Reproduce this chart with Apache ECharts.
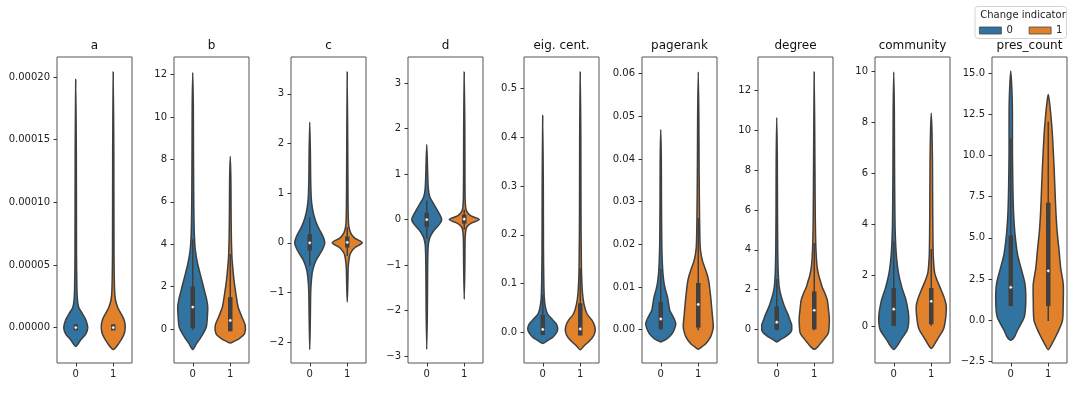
<!DOCTYPE html>
<html>
<head>
<meta charset="utf-8">
<script src="https://cdn.jsdelivr.net/npm/echarts@6/dist/echarts.min.js"></script>
<style>
  html, body { margin: 0; padding: 0; background: #fff; }
  #main { width: 1076px; height: 393px; }
</style>
</head>
<body>
<div id="main"></div>
<script>
// panels and hues
var panelTitles = ['a', 'b', 'c', 'd', 'eig. cent.', 'pagerank', 'degree', 'community', 'pres_count'];
var hueNames = ['0', '1'];

// y axis limits and ticks per panel
var yMin = [-0.0000283, -1.60, -2.42, -3.15, -0.063, -0.00783, -1.675, -1.44, -2.59];
var yMax = [0.000216, 12.83, 3.74, 3.57, 0.565, 0.0639, 13.67, 10.55, 15.97];
var yTicks = [
    [0, 0.00005, 0.0001, 0.00015, 0.0002],
    [0, 2, 4, 6, 8, 10, 12],
    [-2, -1, 0, 1, 2, 3],
    [-3, -2, -1, 0, 1, 2, 3],
    [0, 0.1, 0.2, 0.3, 0.4, 0.5],
    [0, 0.01, 0.02, 0.03, 0.04, 0.05, 0.06],
    [0, 2, 4, 6, 8, 10, 12],
    [0, 2, 4, 6, 8, 10],
    [-2.5, 0, 2.5, 5, 7.5, 10, 12.5, 15]
];
var tickDecimals = [5, 0, 0, 0, 1, 2, 0, 0, 1];

// violin outlines: [value, half width] from bottom to top, hue 0 then hue 1
var shape_a = [
    [[-1.5e-5, 0], [-1.0e-5, 0.13], [-0.5e-5, 0.27], [0, 0.32], [0.6e-5, 0.27], [1.1e-5, 0.18], [1.6e-5, 0.08], [2.2e-5, 0.045], [3.2e-5, 0.03], [6e-5, 0.02], [1.4e-4, 0.015], [1.98e-4, 0]],
    [[-1.76e-5, 0], [-1.3e-5, 0.14], [-0.6e-5, 0.28], [0, 0.32], [0.6e-5, 0.29], [1.1e-5, 0.21], [1.6e-5, 0.12], [2.2e-5, 0.06], [3e-5, 0.035], [6e-5, 0.02], [1.4e-4, 0.015], [2.04e-4, 0]]
];
var shape_b = [
    [[-0.97, 0], [-0.85, 0.05], [-0.69, 0.1], [-0.38, 0.22], [0.09, 0.36], [0.6, 0.39], [1.04, 0.4], [1.4, 0.37], [1.82, 0.31], [2.45, 0.22], [3.08, 0.13], [3.71, 0.07], [4.34, 0.045], [5.2, 0.032], [6.5, 0.025], [8.5, 0.019], [10.5, 0.015], [12.1, 0]],
    [[-0.66, 0], [-0.58, 0.1], [-0.45, 0.24], [-0.22, 0.38], [0.17, 0.4], [0.57, 0.31], [1.04, 0.21], [1.67, 0.15], [2.3, 0.1], [2.93, 0.065], [3.4, 0.045], [4.3, 0.03], [5.5, 0.022], [7, 0.017], [8.15, 0]]
];
var shape_c = [
    [[-2.15, 0], [-1.5, 0.016], [-1.0, 0.025], [-0.75, 0.045], [-0.55, 0.08], [-0.35, 0.17], [-0.15, 0.33], [0, 0.4], [0.15, 0.34], [0.32, 0.22], [0.5, 0.13], [0.7, 0.07], [0.9, 0.04], [1.3, 0.024], [1.8, 0.017], [2.43, 0]],
    [[-1.19, 0], [-0.8, 0.016], [-0.5, 0.025], [-0.35, 0.045], [-0.22, 0.08], [-0.1, 0.2], [0, 0.4], [0.1, 0.19], [0.2, 0.09], [0.32, 0.045], [0.45, 0.03], [0.8, 0.021], [1.5, 0.016], [3.44, 0]]
];
var shape_d = [
    [[-2.85, 0], [-2.0, 0.016], [-1.2, 0.022], [-0.75, 0.03], [-0.53, 0.045], [-0.38, 0.09], [-0.23, 0.2], [-0.1, 0.34], [0, 0.4], [0.15, 0.32], [0.35, 0.18], [0.5, 0.08], [0.7, 0.04], [1.1, 0.022], [1.65, 0]],
    [[-1.75, 0], [-1.0, 0.016], [-0.4, 0.024], [-0.22, 0.045], [-0.15, 0.08], [-0.08, 0.19], [0, 0.4], [0.08, 0.18], [0.16, 0.08], [0.25, 0.04], [0.45, 0.024], [1.0, 0.018], [2, 0.015], [3.24, 0]]
];
var shape_eig = [
    [[-0.023, 0], [-0.016, 0.15], [-0.01, 0.27], [0, 0.37], [0.008, 0.4], [0.016, 0.37], [0.025, 0.27], [0.038, 0.125], [0.052, 0.07], [0.072, 0.04], [0.106, 0.028], [0.17, 0.019], [0.3, 0.015], [0.445, 0]],
    [[-0.036, 0], [-0.028, 0.1], [-0.016, 0.27], [-0.005, 0.37], [0.006, 0.4], [0.016, 0.37], [0.025, 0.31], [0.038, 0.18], [0.058, 0.1], [0.08, 0.06], [0.12, 0.035], [0.16, 0.027], [0.25, 0.019], [0.4, 0.015], [0.534, 0]]
];
var shape_pr = [
    [[-0.0029, 0], [-0.0025, 0.1], [-0.0021, 0.18], [-0.0009, 0.31], [0.0005, 0.38], [0.0014, 0.4], [0.0025, 0.36], [0.0035, 0.3], [0.0045, 0.24], [0.006, 0.21], [0.0076, 0.18], [0.0092, 0.13], [0.0108, 0.09], [0.013, 0.06], [0.016, 0.04], [0.02, 0.028], [0.03, 0.019], [0.04, 0.015], [0.0469, 0]],
    [[-0.0046, 0], [-0.004, 0.1], [-0.0033, 0.2], [-0.0017, 0.33], [0.0, 0.39], [0.001, 0.4], [0.003, 0.38], [0.0069, 0.34], [0.0108, 0.29], [0.0125, 0.25], [0.0139, 0.2], [0.0162, 0.11], [0.0186, 0.06], [0.021, 0.045], [0.026, 0.035], [0.032, 0.028], [0.04, 0.021], [0.05, 0.016], [0.0604, 0]]
];
var shape_deg = [
    [[-0.62, 0], [-0.5, 0.1], [-0.37, 0.22], [-0.12, 0.38], [0.22, 0.4], [0.5, 0.35], [0.8, 0.29], [1.14, 0.21], [1.47, 0.15], [1.8, 0.1], [2.14, 0.065], [2.64, 0.045], [3.1, 0.035], [4, 0.026], [6, 0.019], [8.5, 0.015], [10.63, 0]],
    [[-0.99, 0], [-0.85, 0.1], [-0.62, 0.2], [-0.2, 0.37], [0.3, 0.4], [0.63, 0.4], [1.0, 0.38], [1.47, 0.35], [1.8, 0.29], [2.14, 0.21], [2.4, 0.17], [2.64, 0.13], [3.1, 0.08], [3.64, 0.055], [4.3, 0.04], [5.5, 0.028], [8, 0.019], [12.92, 0]]
];
var shape_comm = [
    [[-0.91, 0], [-0.75, 0.1], [-0.55, 0.18], [-0.15, 0.36], [0.35, 0.4], [1.0, 0.33], [1.5, 0.22], [2.05, 0.13], [2.6, 0.08], [3.1, 0.055], [3.9, 0.035], [5.5, 0.024], [7, 0.019], [8.5, 0.015], [9.96, 0]],
    [[-0.87, 0], [-0.7, 0.09], [-0.5, 0.17], [-0.1, 0.33], [0.4, 0.39], [0.8, 0.4], [1.1, 0.35], [1.4, 0.27], [1.8, 0.155], [2.1, 0.09], [2.7, 0.055], [3.4, 0.045], [5, 0.037], [6.5, 0.032], [7.2, 0.025], [7.8, 0.016], [8.35, 0]]
];
var shape_pc = [
    [[-1.21, 0], [-1.0, 0.1], [-0.6, 0.18], [0.2, 0.36], [1.1, 0.4], [2.2, 0.38], [3.2, 0.27], [4.0, 0.18], [5.3, 0.11], [6.5, 0.075], [8.3, 0.055], [10.3, 0.045], [12.3, 0.045], [13.3, 0.04], [14.4, 0.022], [15.12, 0]],
    [[-1.78, 0], [-1.5, 0.08], [-0.8, 0.24], [0, 0.38], [1.2, 0.4], [2.2, 0.4], [3.2, 0.33], [4.2, 0.29], [5.3, 0.24], [6.3, 0.21], [7.3, 0.19], [9.3, 0.155], [11.3, 0.11], [12.5, 0.067], [13.3, 0.03], [13.7, 0]]
];
var shapes = [shape_a, shape_b, shape_c, shape_d, shape_eig, shape_pr, shape_deg, shape_comm, shape_pc];

// inner box: [q1, median, q3] and whisker [low, high]
var quart0 = [[-0.5e-6, 0, 0.8e-6], [0.15, 1.04, 1.9], [-0.11, 0.0, 0.13], [-0.11, 0.0, 0.1], [-0.001, 0.006, 0.031], [0.0007, 0.0025, 0.006], [0.1, 0.37, 1.05], [0.1, 0.67, 1.41], [1, 2, 5]];
var whisk0 = [[-1e-6, 2e-6], [0, 4.2], [-0.45, 0.5], [-0.4, 0.4], [-0.003, 0.075], [0.0, 0.014], [0, 2.5], [0.05, 3.3], [1, 11]];
var quart1 = [[-0.5e-6, 0, 0.8e-6], [0.0, 0.41, 1.4], [-0.05, 0.01, 0.08], [-0.04, 0.01, 0.06], [-0.002, 0.007, 0.055], [0.001, 0.0059, 0.0104], [0.13, 0.97, 1.8], [0.17, 0.98, 1.41], [1, 3, 7]];
var whisk1 = [[-1e-6, 2e-6], [-0.05, 3.5], [-0.25, 0.3], [-0.2, 0.2], [-0.004, 0.13], [0.0, 0.026], [0.0, 4.3], [0.05, 3.0], [0, 12]];

var BLUE = '#3274a1', ORANGE = '#e1812c', GRAY = '#3f3f3f';
var hueColors = [BLUE, ORANGE];
var gridLeft = [57, 174, 291, 408, 524, 642, 758, 875, 992];
var gridTop = 57, gridW = 75, gridH = 306;
var FONT = 'DejaVu Sans';

var chart = echarts.init(document.getElementById('main'));

function fmt(dec) {
    return function (v) {
        return Number(v).toFixed(dec).replace('-', '\u2212');
    };
}

function violinRenderer(shape, quart, whisk) {
    return function (params, api) {
        var x = api.value(0);
        var pts = [];
        var i;
        for (i = 0; i < shape.length; i++) {
            pts.push(api.coord([x + shape[i][1], shape[i][0]]));
        }
        for (i = shape.length - 1; i >= 0; i--) {
            if (shape[i][1] > 0) pts.push(api.coord([x - shape[i][1], shape[i][0]]));
        }
        var lo = api.coord([x, whisk[0]]), hi = api.coord([x, whisk[1]]);
        var q1 = api.coord([x, quart[0]]), q3 = api.coord([x, quart[2]]);
        var md = api.coord([x, quart[1]]);
        return {
            type: 'group',
            children: [{
                type: 'polygon',
                shape: { points: pts, smooth: 0.25 },
                style: { fill: api.visual('color'), stroke: GRAY, lineWidth: 1.5 }
            }, {
                type: 'line',
                shape: { x1: lo[0], y1: lo[1], x2: hi[0], y2: hi[1] },
                style: { stroke: GRAY, lineWidth: 1.5, lineCap: 'square' }
            }, {
                type: 'line',
                shape: { x1: q1[0], y1: q1[1], x2: q3[0], y2: q3[1] },
                style: { stroke: GRAY, lineWidth: 4.5, lineCap: 'square' }
            }, {
                type: 'circle',
                shape: { cx: md[0], cy: md[1], r: 1.6 },
                style: { fill: '#fff', stroke: GRAY, lineWidth: 0.5 }
            }]
        };
    };
}

var grids = [], xAxes = [], yAxes = [], titles = [], series = [];
panelTitles.forEach(function (t, i) {
    grids.push({
        left: gridLeft[i], top: gridTop, width: gridW, height: gridH,
        show: true, borderColor: '#555', borderWidth: 1, backgroundColor: 'transparent'
    });
    titles.push({
        text: t, left: gridLeft[i] + gridW / 2, top: 40, textAlign: 'center', padding: 0,
        textStyle: { fontSize: 12, fontWeight: 'normal', color: '#111', fontFamily: FONT }
    });
    xAxes.push({
        type: 'value', gridIndex: i, min: -0.5, max: 1.5, position: 'bottom',
        axisLine: { show: false, onZero: false },
        splitLine: { show: false },
        axisTick: { show: true, length: 3.5, customValues: [0, 1], lineStyle: { color: '#333' } },
        axisLabel: { customValues: [0, 1], margin: 6, fontSize: 10, color: '#222', fontFamily: FONT, formatter: fmt(0) }
    });
    yAxes.push({
        type: 'value', gridIndex: i, min: yMin[i], max: yMax[i], position: 'left',
        axisLine: { show: false, onZero: false },
        splitLine: { show: false },
        axisTick: { show: true, length: 3.5, customValues: yTicks[i], lineStyle: { color: '#333' } },
        axisLabel: { customValues: yTicks[i], margin: 7, fontSize: 10, color: '#222', fontFamily: FONT, formatter: fmt(tickDecimals[i]) }
    });
    var quarts = [quart0[i], quart1[i]], whisks = [whisk0[i], whisk1[i]];
    hueNames.forEach(function (h, k) {
        series.push({
            type: 'custom',
            name: h,
            xAxisIndex: i,
            yAxisIndex: i,
            itemStyle: { color: hueColors[k] },
            renderItem: violinRenderer(shapes[i][k], quarts[k], whisks[k]),
            data: [[k, quarts[k][1]]],
            silent: true
        });
    });
});

var option = {
    animation: false,
    backgroundColor: '#fff',
    textStyle: { fontFamily: FONT },
    title: titles,
    legend: {
        data: [{ name: '0', itemStyle: { color: BLUE } }, { name: '1', itemStyle: { color: ORANGE } }],
        left: 975, top: 6.5,
        padding: [18, 4, 2, 4],
        itemWidth: 22, itemHeight: 7, itemGap: 16,
        icon: 'rect',
        borderColor: '#d5d5d5', borderWidth: 1, borderRadius: 3, backgroundColor: '#fff',
        itemStyle: { borderColor: GRAY, borderWidth: 0.75 },
        textStyle: { fontSize: 10, color: '#222', fontFamily: FONT, lineHeight: 12 },
        selectedMode: false
    },
    graphic: [{
        type: 'text', x: 1023, y: 15.5, z: 100,
        style: { text: 'Change indicator', align: 'center', verticalAlign: 'middle', fontSize: 10, fontFamily: FONT, fill: '#222' }
    }],
    grid: grids,
    xAxis: xAxes,
    yAxis: yAxes,
    series: series
};
chart.setOption(option);
</script>
</body>
</html>
